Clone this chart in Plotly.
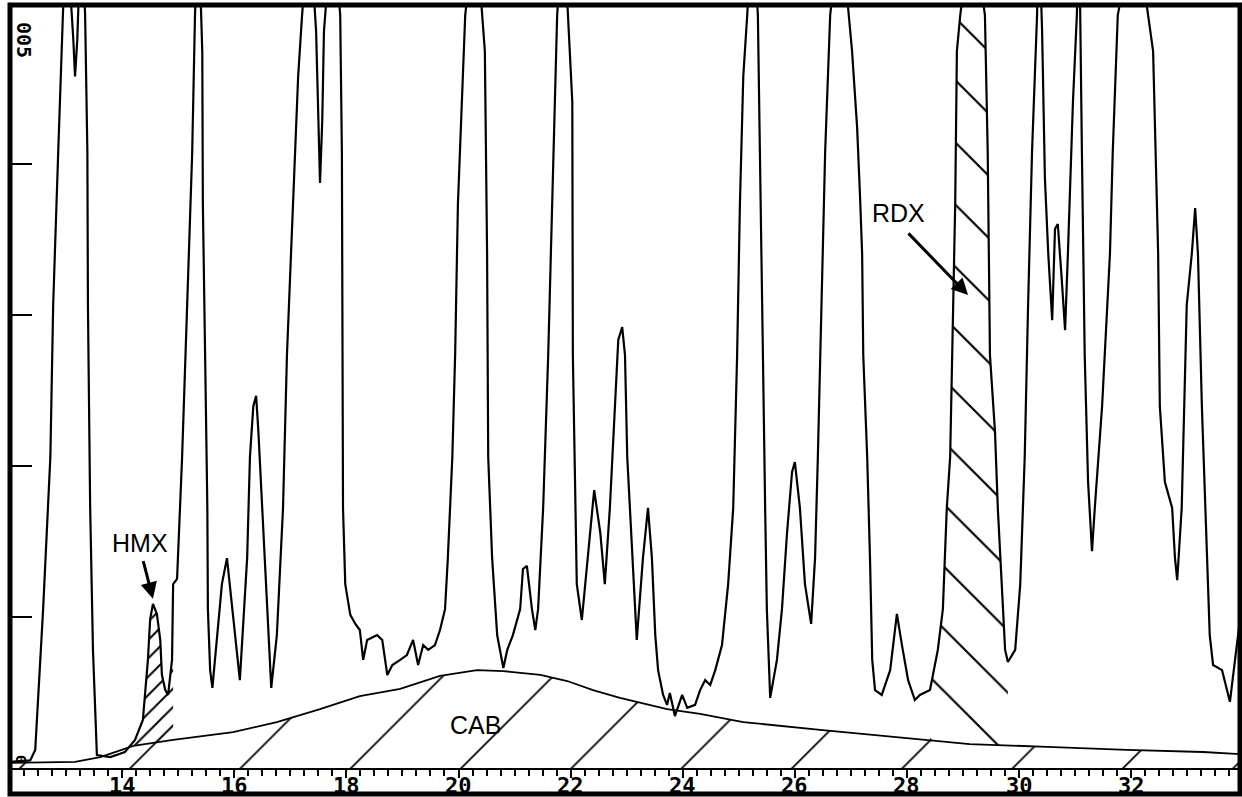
import numpy as np
import plotly.graph_objects as go

# ---- chromatogram trace (retention time, min ; absorbance, chart units) ----
time_min = [12.00, 12.36, 12.45, 12.59, 12.72, 12.77, 12.86, 12.95, 13.00, 13.13, 13.16, 13.20, 13.27,
            13.34, 13.38, 13.39, 13.43, 13.48, 13.52, 13.55, 13.79, 14.05, 14.23, 14.37, 14.46, 14.50,
            14.55, 14.62, 14.68, 14.71, 14.77, 14.82, 14.89, 14.91, 14.98, 15.07, 15.16, 15.25, 15.30,
            15.36, 15.43, 15.44, 15.48, 15.52, 15.53, 15.57, 15.61, 15.69, 15.78, 15.87, 15.98, 16.10,
            16.23, 16.28, 16.34, 16.39, 16.43, 16.50, 16.59, 16.66, 16.76, 16.87, 16.94, 17.05, 17.14,
            17.21, 17.34, 17.46, 17.50, 17.53, 17.57, 17.60, 17.75, 17.89, 17.92, 17.93, 17.94, 17.98,
            18.07, 18.16, 18.24, 18.30, 18.37, 18.55, 18.64, 18.73, 18.82, 18.96, 19.08, 19.19, 19.28,
            19.37, 19.46, 19.58, 19.67, 19.76, 19.81, 19.89, 19.94, 19.99, 20.06, 20.12, 20.30, 20.47,
            20.51, 20.53, 20.60, 20.69, 20.80, 20.87, 20.97, 21.10, 21.15, 21.22, 21.31, 21.37, 21.42,
            21.51, 21.60, 21.69, 21.76, 21.87, 22.03, 22.04, 22.08, 22.11, 22.20, 22.31, 22.42, 22.53,
            22.61, 22.70, 22.79, 22.85, 22.92, 22.97, 23.01, 23.10, 23.15, 23.18, 23.29, 23.38, 23.45,
            23.51, 23.56, 23.65, 23.72, 23.77, 23.86, 23.99, 24.08, 24.22, 24.31, 24.40, 24.49, 24.58,
            24.70, 24.81, 24.90, 24.97, 25.02, 25.08, 25.15, 25.24, 25.34, 25.38, 25.43, 25.47, 25.50,
            25.56, 25.68, 25.77, 25.86, 25.95, 26.00, 26.09, 26.18, 26.29, 26.36, 26.41, 26.48, 26.54,
            26.63, 26.81, 27.02, 27.11, 27.16, 27.20, 27.22, 27.29, 27.34, 27.38, 27.43, 27.55, 27.70,
            27.82, 27.91, 28.02, 28.14, 28.23, 28.41, 28.55, 28.64, 28.71, 28.77, 28.82, 28.86, 28.89,
            28.95, 29.16, 29.39, 29.44, 29.48, 29.57, 29.62, 29.69, 29.75, 29.80, 29.93, 30.02, 30.10,
            30.16, 30.23, 30.32, 30.35, 30.41, 30.46, 30.52, 30.59, 30.64, 30.69, 30.76, 30.82, 30.87,
            30.96, 31.03, 31.07, 31.12, 31.17, 31.23, 31.30, 31.35, 31.48, 31.62, 31.67, 31.76, 32.07,
            32.39, 32.48, 32.51, 32.60, 32.73, 32.78, 32.82, 32.90, 32.99, 33.08, 33.14, 33.19, 33.26,
            33.35, 33.40, 33.46, 33.62, 33.76, 33.85, 33.94]
absorbance = [0.20, 0.25, 0.60, 5.23, 10.30, 15.33, 20.39, 24.93, 28.0, 24.10, 22.90, 24.10, 28.0,
              24.93, 20.39, 15.33, 8.61, 3.91, 1.59, 0.43, 0.36, 0.53, 0.93, 1.59, 3.58, 4.93,
              5.43, 5.10, 4.24, 3.08, 2.58, 2.42, 3.58, 6.09, 6.26, 10.30, 15.33, 20.39, 24.93,
              28.0, 23.70, 18.70, 13.70, 8.61, 5.26, 3.24, 2.65, 4.40, 6.09, 6.95, 4.93, 2.91,
              6.95, 10.30, 11.98, 12.32, 11.16, 8.61, 5.26, 2.65, 4.40, 8.61, 13.67, 18.70, 22.91,
              24.93, 28.0, 24.40, 21.45, 19.37, 21.45, 24.40, 28.0, 24.93, 20.39, 13.67, 8.61, 6.09,
              5.07, 4.77, 4.57, 3.58, 4.24, 4.40, 4.24, 3.08, 3.41, 3.58, 3.74, 4.24, 3.41,
              4.07, 3.91, 4.07, 4.57, 5.26, 6.95, 10.30, 13.67, 18.70, 22.05, 24.93, 28.0, 23.74,
              17.02, 10.30, 6.95, 4.40, 3.31, 3.91, 4.40, 5.26, 6.59, 6.69, 5.26, 4.57, 5.26,
              8.61, 13.67, 20.39, 24.93, 28.0, 22.05, 13.67, 8.61, 6.09, 4.90, 6.95, 9.20, 7.78,
              6.09, 8.61, 11.98, 14.17, 14.60, 13.67, 10.30, 6.95, 5.26, 4.24, 6.95, 8.61, 6.95,
              4.40, 3.24, 2.42, 2.09, 2.48, 1.72, 2.42, 1.99, 2.09, 2.58, 2.91, 2.75, 3.24,
              4.07, 6.09, 8.61, 13.67, 18.70, 22.91, 24.93, 28.0, 24.93, 20.39, 13.67, 8.61, 5.26,
              2.32, 3.58, 5.26, 7.78, 9.80, 10.13, 8.61, 6.09, 4.77, 6.95, 10.30, 15.33, 20.39,
              24.93, 28.0, 23.74, 21.22, 19.04, 17.02, 13.67, 10.30, 6.95, 3.58, 2.58, 2.42, 3.24,
              5.10, 4.07, 2.91, 2.25, 2.42, 2.58, 3.91, 5.26, 8.61, 10.30, 14.50, 18.70, 23.74,
              24.93, 28.0, 24.93, 20.39, 13.67, 11.12, 8.61, 6.09, 3.91, 3.51, 3.91, 6.09, 10.30,
              15.33, 20.39, 24.93, 28.0, 24.40, 19.53, 17.02, 14.83, 17.85, 18.01, 16.19, 14.50, 17.02,
              22.05, 24.93, 28.0, 20.39, 13.67, 9.47, 7.18, 8.61, 11.98, 17.02, 20.39, 24.93, 28.0,
              23.74, 17.02, 11.98, 9.47, 8.61, 6.95, 6.22, 8.61, 15.33, 17.02, 18.54, 17.02, 11.98,
              6.95, 4.40, 3.41, 3.24, 2.19, 3.58, 4.93]

# ---- CAB (binder) broad background hump ----
cab_time = [12.00, 13.16, 13.61, 14.20, 14.91, 15.98, 16.76, 17.53, 18.24, 18.96, 19.67, 20.33,
            20.80, 21.46, 21.94, 22.40, 22.88, 23.72, 24.31, 25.08, 26.45, 27.75, 29.12, 30.50,
            31.92, 33.28, 33.94]
cab_abs = [0.17, 0.20, 0.36, 0.73, 0.93, 1.19, 1.52, 1.95, 2.38, 2.62, 3.05, 3.24,
           3.21, 3.08, 2.88, 2.58, 2.32, 1.95, 1.79, 1.52, 1.26, 1.03, 0.79, 0.70,
           0.60, 0.53, 0.46]

# ---- labelled peaks (retention window) ----
hmx_window = [14.20, 14.91]
rdx_window = [28.41, 29.80]

# ---- axes ----
x_range = [12.0, 33.94]
y_range = [0.0, 25.23]
x_tick_vals = [14, 16, 18, 20, 22, 24, 26, 28, 30, 32]
x_tick_text = ["14", "16", "18", "20", "22", "24", "26", "28", "30", "32"]
y_tick_vals = [5, 10, 15, 20]
y_end_labels = ["0", "005"]

t = np.array(time_min)
a = np.array(absorbance)
ct = np.array(cab_time)
ca = np.array(cab_abs)

fig = go.Figure()

# CAB hatched area
fig.add_trace(go.Scatter(
    x=cab_time, y=cab_abs, mode="lines", fill="tozeroy",
    line=dict(color="black", width=1.8),
    fillcolor="rgba(0,0,0,0)",
    fillpattern=dict(shape="/", fgcolor="black", fgopacity=1, bgcolor="rgba(0,0,0,0)",
                     size=78, solidity=0.022),
    hoverinfo="skip"))


def peak_polygon(win):
    m = (t >= win[0]) & (t <= win[1])
    bx = np.concatenate(([win[1]], ct[(ct > win[0]) & (ct < win[1])][::-1], [win[0]]))
    by = np.interp(bx, ct, ca)
    return list(t[m]) + list(bx), list(a[m]) + list(by)


hx, hy = peak_polygon(hmx_window)
fig.add_trace(go.Scatter(
    x=hx, y=hy, mode="lines", fill="toself", line=dict(width=0, color="rgba(0,0,0,0)"),
    fillcolor="rgba(0,0,0,0)",
    fillpattern=dict(shape="/", fgcolor="black", fgopacity=1, bgcolor="rgba(0,0,0,0)",
                     size=13, solidity=0.15),
    hoverinfo="skip"))

rx, ry = peak_polygon(rdx_window)
fig.add_trace(go.Scatter(
    x=rx, y=ry, mode="lines", fill="toself", line=dict(width=0, color="rgba(0,0,0,0)"),
    fillcolor="rgba(0,0,0,0)",
    fillpattern=dict(shape="\\", fgcolor="black", fgopacity=1, bgcolor="rgba(0,0,0,0)",
                     size=44, solidity=0.05),
    hoverinfo="skip"))

# main chromatogram
fig.add_trace(go.Scatter(
    x=time_min, y=absorbance, mode="lines",
    line=dict(color="black", width=2.2), hoverinfo="skip"))

lab_font = dict(family="Liberation Sans, Arial, sans-serif", size=25, color="black")
fig.add_annotation(x=14.32, y=7.45, text="HMX", showarrow=False, font=lab_font)
fig.add_annotation(x=14.55, y=5.6, ax=14.37, ay=6.9, axref="x", ayref="y", text="",
                   showarrow=True, arrowhead=2, arrowsize=1.1, arrowwidth=3, arrowcolor="black")
fig.add_annotation(x=27.84, y=18.37, text="RDX", showarrow=False, font=lab_font)
fig.add_annotation(x=29.09, y=15.66, ax=28.0, ay=17.75, axref="x", ayref="y", text="",
                   showarrow=True, arrowhead=2, arrowsize=1.1, arrowwidth=3, arrowcolor="black")
fig.add_annotation(x=20.30, y=1.42, text="CAB", showarrow=False, font=lab_font)

# x tick labels, placed tight under the tick marks
xt_font = dict(family="DejaVu Sans Mono, monospace", size=22, color="black", weight=700)
for v, s in zip(x_tick_vals, x_tick_text):
    fig.add_annotation(x=v, y=y_range[0], text=s, showarrow=False, xanchor="center",
                       yanchor="middle", yshift=-17, font=xt_font)

# y end labels (rotated)
tick_font = dict(family="DejaVu Sans Mono, monospace", size=20, color="black", weight=700)
fig.add_annotation(xref="paper", x=0, y=y_range[0], text=y_end_labels[0],
                   showarrow=False, textangle=90, xanchor="left", yanchor="bottom",
                   xshift=1, yshift=3, font=dict(tick_font, size=14))
fig.add_annotation(xref="paper", x=0, y=y_range[1], text=y_end_labels[1],
                   showarrow=False, textangle=90, xanchor="left", yanchor="top",
                   xshift=0, yshift=-14, font=tick_font)

# thick outer frame
fig.add_shape(type="rect", xref="paper", yref="paper", x0=0, x1=1, y0=-26 / 762, y1=1 + 1 / 762,
              line=dict(color="black", width=5), layer="above")

fig.update_layout(
    width=1242, height=797,
    margin=dict(l=10, r=2, t=6, b=29),
    plot_bgcolor="white", paper_bgcolor="white",
    showlegend=False,
    xaxis=dict(range=x_range, tickmode="array", tickvals=x_tick_vals, showticklabels=False,
               automargin=False,
               ticks="outside", ticklen=8, tickwidth=2, tickcolor="black",
               showline=True, linecolor="black", linewidth=2,
               showgrid=False, zeroline=False,
               minor=dict(tickmode="linear", tick0=12, dtick=0.25, ticks="outside",
                          ticklen=6, tickwidth=2, tickcolor="black", showgrid=False)),
    yaxis=dict(range=y_range, tickmode="array", tickvals=y_tick_vals, automargin=False,
               ticks="inside", ticklen=22, tickwidth=2, tickcolor="black",
               showticklabels=False, showline=False, showgrid=False, zeroline=False),
)

fig.write_html("out.html", config={"displayModeBar": False},
               post_script="document.body.style.margin='0';document.body.style.overflow='hidden';")
